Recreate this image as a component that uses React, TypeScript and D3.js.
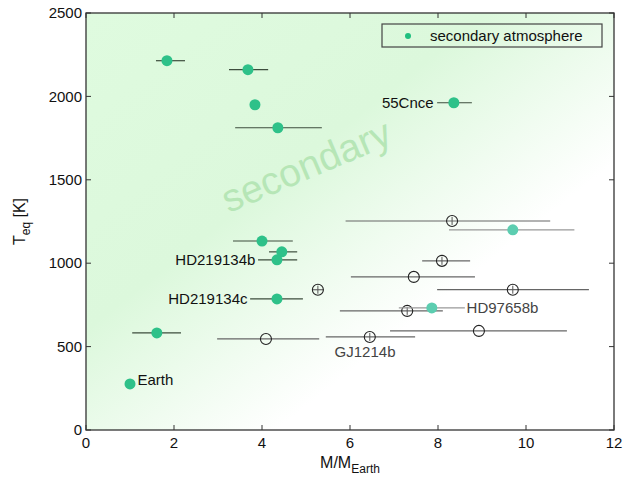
import * as d3 from 'd3'

// planets: mass (M_Earth), lower/upper mass error bar, Teq (K)
const secondary = [
  { name: '', m: 1.84, lo: 1.59, hi: 2.25, t: 2214 },
  { name: '', m: 3.68, lo: 3.25, hi: 4.14, t: 2160 },
  { name: '', m: 3.84, lo: 3.84, hi: 3.84, t: 1950 },
  { name: '', m: 4.36, lo: 3.39, hi: 5.36, t: 1812 },
  { name: '55Cnce', m: 8.36, lo: 7.98, hi: 8.77, t: 1962 },
  { name: '', m: 4.0, lo: 3.34, hi: 4.7, t: 1133 },
  { name: '', m: 4.45, lo: 4.16, hi: 4.8, t: 1068 },
  { name: 'HD219134b', m: 4.34, lo: 3.91, hi: 4.8, t: 1020 },
  { name: 'HD219134c', m: 4.34, lo: 3.73, hi: 4.93, t: 786 },
  { name: '', m: 1.61, lo: 1.05, hi: 2.16, t: 582 },
  { name: 'Earth', m: 1.0, lo: 1.0, hi: 1.0, t: 276 },
]

const uncertain = [
  { name: '', m: 9.7, lo: 8.25, hi: 11.1, t: 1200 },
  { name: 'HD97658b', m: 7.86, lo: 7.11, hi: 8.61, t: 732 },
]

const unknown = [
  { m: 8.32, lo: 5.9, hi: 10.55, t: 1253, cross: true },
  { m: 8.09, lo: 7.64, hi: 8.73, t: 1014, cross: true },
  { m: 7.45, lo: 6.02, hi: 8.84, t: 918, cross: false },
  { m: 5.27, lo: 5.15, hi: 5.4, t: 841, cross: true },
  { m: 9.7, lo: 7.98, hi: 11.43, t: 841, cross: true },
  { m: 7.3, lo: 5.77, hi: 8.11, t: 714, cross: true },
  { m: 8.93, lo: 6.91, hi: 10.93, t: 594, cross: false },
  { m: 6.45, lo: 5.45, hi: 7.48, t: 558, cross: true },
  { m: 4.09, lo: 2.98, hi: 5.3, t: 546, cross: false },
]

const xTicks = [0, 2, 4, 6, 8, 10, 12]
const yTicks = [0, 500, 1000, 1500, 2000, 2500]

const W = 624
const H = 479
const margin = { top: 13, right: 10, bottom: 49, left: 86 }
const font = 'Liberation Sans, Arial, Helvetica, sans-serif'

export default function App() {
  const x = d3.scaleLinear().domain([0, 12]).range([margin.left, W - margin.right])
  const y = d3.scaleLinear().domain([0, 2500]).range([H - margin.bottom, margin.top])
  const [x0, x1] = x.range()
  const [y0, y1] = y.range()

  const green = '#2ec189'
  const teal = '#5ccdb0'
  const wx = x(5.12)
  const wy = y(1510)

  return (
    <svg
      width={W}
      height={H}
      style={{ position: 'absolute', left: 0, top: 0 }}
      fontFamily={font}
    >
      <defs>
        <linearGradient id="bg" x1="0" y1="0" x2="1" y2="1">
          <stop offset="0" stopColor="#dffbdf" />
          <stop offset="0.38" stopColor="#dcf8dc" />
          <stop offset="0.68" stopColor="#ffffff" />
          <stop offset="1" stopColor="#ffffff" />
        </linearGradient>
      </defs>
      <rect width={W} height={H} fill="#fff" />
      <rect x={x0} y={y1} width={x1 - x0} height={y0 - y1} fill="url(#bg)" />

      <text
        x={wx}
        y={wy}
        transform={`rotate(-23 ${wx} ${wy})`}
        textAnchor="middle"
        fontSize={39}
        fill="#b6e6b6"
      >
        secondary
      </text>

      {/* unknown: open circles */}
      {unknown.map((d, i) => (
        <g key={'u' + i}>
          <line x1={x(d.lo)} x2={x(d.hi)} y1={y(d.t)} y2={y(d.t)} stroke="#666" strokeWidth={1.2} />
          <circle cx={x(d.m)} cy={y(d.t)} r={5.5} fill="none" stroke="#222" strokeWidth={1.1} />
          {d.cross && (
            <line x1={x(d.m)} x2={x(d.m)} y1={y(d.t) - 4} y2={y(d.t) + 4} stroke="#555" strokeWidth={1} />
          )}
        </g>
      ))}

      {/* uncertain */}
      {uncertain.map((d, i) => (
        <g key={'c' + i}>
          <line x1={x(d.lo)} x2={x(d.hi)} y1={y(d.t)} y2={y(d.t)} stroke="#999" strokeWidth={1.4} />
          <circle cx={x(d.m)} cy={y(d.t)} r={5.5} fill={teal} />
        </g>
      ))}

      {/* secondary */}
      {secondary.map((d, i) => (
        <g key={'s' + i}>
          {d.hi > d.lo && (
            <line x1={x(d.lo)} x2={x(d.hi)} y1={y(d.t)} y2={y(d.t)} stroke="#3d4d3d" strokeWidth={1.2} />
          )}
          <circle cx={x(d.m)} cy={y(d.t)} r={5.5} fill={green} />
        </g>
      ))}

      {/* labels */}
      <text x={x(7.9)} y={y(1962)} dy="0.35em" textAnchor="end" fontSize={15} fill="#111">55Cnce</text>
      <text x={x(3.85)} y={y(1020)} dy="0.35em" textAnchor="end" fontSize={15} fill="#111">HD219134b</text>
      <text x={x(3.67)} y={y(786)} dy="0.35em" textAnchor="end" fontSize={15} fill="#111">HD219134c</text>
      <text x={x(1.17)} y={y(300)} dy="0.35em" fontSize={15} fill="#111">Earth</text>
      <text x={x(8.65)} y={y(732)} dy="0.35em" fontSize={15} fill="#444">HD97658b</text>
      <text x={x(5.65)} y={y(468)} dy="0.35em" fontSize={15} fill="#444">GJ1214b</text>

      {/* frame */}
      <rect x={x0} y={y1} width={x1 - x0} height={y0 - y1} fill="none" stroke="#333" strokeWidth={1.3} />

      {/* ticks */}
      {xTicks.map(t => (
        <g key={'x' + t}>
          <line x1={x(t)} x2={x(t)} y1={y0} y2={y0 - 5} stroke="#333" />
          <line x1={x(t)} x2={x(t)} y1={y1} y2={y1 + 5} stroke="#333" />
          <text x={x(t)} y={y0 + 18} textAnchor="middle" fontSize={15} fill="#111">{t}</text>
        </g>
      ))}
      {yTicks.map(t => (
        <g key={'y' + t}>
          <line x1={x0} x2={x0 + 5} y1={y(t)} y2={y(t)} stroke="#333" />
          <line x1={x1} x2={x1 - 5} y1={y(t)} y2={y(t)} stroke="#333" />
          <text x={x0 - 4} y={y(t)} dy="0.35em" textAnchor="end" fontSize={15} fill="#111">{t}</text>
        </g>
      ))}

      {/* axis titles */}
      <text x={(x0 + x1) / 2} y={y0 + 38} textAnchor="middle" fontSize={16} fill="#111">
        M/M<tspan dy={5} fontSize={12}>Earth</tspan>
      </text>
      <text transform={`translate(25 ${(y0 + y1) / 2}) rotate(-90)`} textAnchor="middle" fontSize={16} fill="#111">
        T<tspan dy={5} fontSize={12}>eq</tspan>
        <tspan dy={-5}> [K]</tspan>
      </text>

      {/* legend */}
      <rect x={382} y={24} width={220} height={23} fill="none" stroke="#444" strokeWidth={1.2} />
      <circle cx={408} cy={36} r={3} fill="#1fbf7f" />
      <text x={430} y={36} dy="0.35em" fontSize={15} fill="#111">secondary atmosphere</text>
    </svg>
  )
}
